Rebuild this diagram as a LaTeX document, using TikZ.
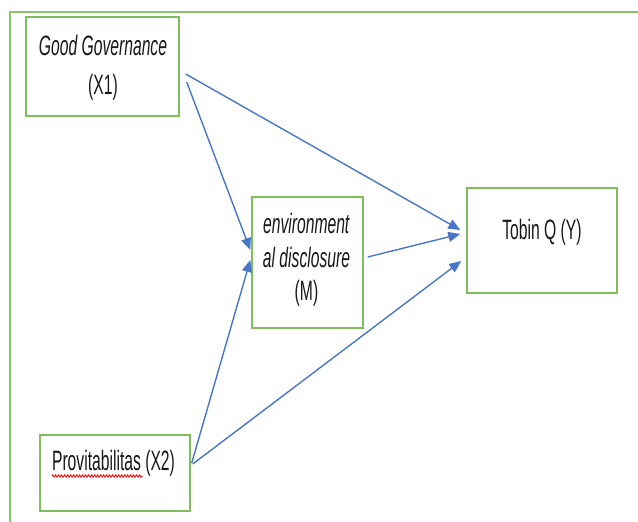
\documentclass[tikz,border=0pt]{standalone}
\usepackage{fontspec}
\setmainfont{Liberation Sans}[FakeStretch=0.56]
\usetikzlibrary{calc, arrows.meta, decorations.pathmorphing}
\definecolor{boxgreen}{RGB}{128,190,92}
\definecolor{framegreen}{RGB}{140,196,110}
\definecolor{arrowblue}{RGB}{72,118,200}
\newcommand{\lbl}{\fontsize{28}{33}\selectfont}

\begin{document}
\begin{tikzpicture}[x=1pt, y=-1pt,
	box/.style={draw=boxgreen, line width=1.4pt, fill=white, inner sep=0pt},
	txt/.style={anchor=base, inner sep=0pt, text=black!90, font=\lbl},
	link/.style={draw=arrowblue, line width=1.4pt, -{Triangle[length=12pt, width=10pt]}},
	squiggle/.style={draw=red, line width=0.8pt, decorate, decoration={zigzag, amplitude=1.2pt, segment length=3pt}}]
	\useasboundingbox (0,0) rectangle (638,522);
	\draw[framegreen, line width=2pt] (638,11.5) -- (10,11.5) -- (10,522);
	
	\node[box, minimum width=153pt, minimum height=99pt] (x1) at (102.5,66.5) {};
	\node[txt] (x1a) at (103,55) {\textit{Good Governance}};
	\node[txt] (x1b) at (103,94) {(X1)};
	
	\node[box, minimum width=111pt, minimum height=131pt] (m) at (307.5,262.5) {};
	\node[txt] (ma) at (306.5,233) {\textit{environment}};
	\node[txt] (mb) at (306.5,267) {\textit{al disclosure}};
	\node[txt] (mc) at (306.5,300) {(M)};
	
	\node[box, minimum width=150pt, minimum height=105pt] (y) at (542,240.5) {};
	\node[txt] (ya) at (542,239) {Tobin Q (Y)};
	
	\node[box, minimum width=150pt, minimum height=76pt] (x2) at (115,473) {};
	\node[txt] (x2a) at (113.5,470) {Provitabilitas (X2)};
	\draw[squiggle] ($(x2a.base west)+(0,6)$) -- ++(91,0);
	
	\draw[link] ($(x1.east)+(6,7.5)$) -- ($(y.west)+(-6,-10.5)$);
	\draw[link] ($(x1.east)+(7,15.5)$) -- ($(m.west)+(-1,-12.5)$);
	\draw[link] ($(m.east)+(4,-5.5)$) -- ($(y.west)+(-6,-6.5)$);
	\draw[link] ($(x2.east)+(1,-10)$) -- ($(m.west)+(-1,-2.5)$);
	\draw[link] ($(x2.east)+(2,-9)$) -- ($(y.west)+(-5,20.5)$);
\end{tikzpicture}
\end{document}
